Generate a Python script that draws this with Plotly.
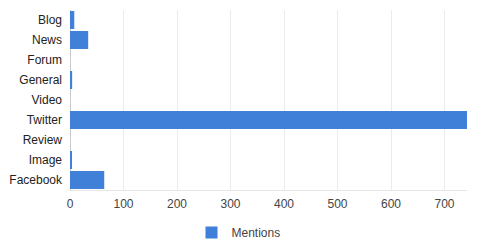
import plotly.graph_objects as go

categories = ["Blog", "News", "Forum", "General", "Video", "Twitter", "Review", "Image", "Facebook"]
mentions = [8, 34, 0, 4, 0, 742, 0, 2, 64]
x_ticks = [0, 100, 200, 300, 400, 500, 600, 700]
series_name = "Mentions"

fig = go.Figure()
fig.add_trace(go.Bar(
    y=categories, x=mentions, orientation="h", name=series_name,
    marker=dict(color="#4080d8", line=dict(width=0)),
    showlegend=True,
))
fig.update_layout(
    width=477, height=250,
    margin=dict(l=70, r=10, t=10, b=60),
    paper_bgcolor="white", plot_bgcolor="white",
    bargap=0.1,
    font=dict(family="Liberation Sans, Arial, sans-serif", size=12, color="#222"),
    xaxis=dict(range=[0, max(mentions)], tickvals=x_ticks, showgrid=True, gridcolor="#ebebeb",
               zeroline=True, zerolinecolor="#cccccc", zerolinewidth=1,
               showline=True, linecolor="#e6e6e6", ticks="", automargin=False,
               tickfont=dict(color="#444", size=12), ticklabelstandoff=3),
    yaxis=dict(categoryorder="array", categoryarray=categories, autorange="reversed",
               showgrid=False, ticks="", tickfont=dict(color="#222", size=12), automargin=False,
               ticklabelstandoff=7, showline=False),
    legend=dict(orientation="h", xref="container", yref="container", x=0.50, xanchor="center",
                y=0.07, yanchor="middle", font=dict(color="#444", size=12)),
)
fig.write_html("out.html")
